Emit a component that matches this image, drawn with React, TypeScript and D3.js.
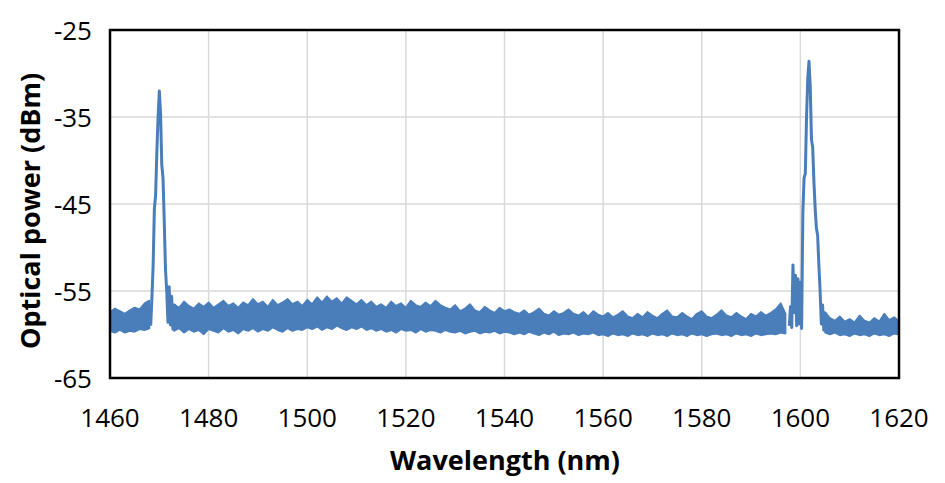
import { useEffect, useRef } from "react";
import * as d3 from "d3";

// Noise floor, read as upper / lower edge of the trace per 1 nm bin (dBm)
const floorA_start = 1460;
const floorA_hi = [-57.4, -57.0, -57.3, -57.6, -57.2, -56.9, -57.1, -56.4, -56.1];
const floorA_lo = [-59.6, -59.8, -59.5, -59.8, -59.6, -59.7, -59.4, -59.5, -59.3];

const floorB_start = 1473;
const floorB_hi = [
  // 1473 - 1499
  -56.5, -56.9, -56.2, -56.7, -57.0, -56.4, -56.8, -56.3, -56.9, -56.5,
  -56.1, -56.7, -56.4, -56.9, -56.3, -56.6, -55.9, -56.5, -56.2, -56.8,
  -56.0, -56.6, -56.3, -55.9, -56.5, -56.2, -56.7,
  // 1500 - 1514
  -56.0, -56.5, -55.7, -56.3, -55.6, -56.2, -55.8, -56.4, -55.7, -56.1,
  -56.5, -56.0, -56.6, -56.2, -56.8,
  // 1515 - 1528
  -56.5, -56.9, -56.2, -56.7, -56.4, -56.9, -56.1, -56.6, -56.8, -56.3,
  -56.7, -56.1, -56.6, -56.9,
  // 1529 - 1542
  -57.1, -56.6, -57.3, -57.0, -56.5, -57.2, -57.4, -56.8, -57.2, -57.5,
  -56.9, -57.3, -57.1, -57.4,
  // 1543 - 1559
  -57.6, -57.2, -57.7, -57.4, -57.0, -57.6, -57.8, -57.3, -57.7, -57.5,
  -57.1, -57.6, -57.8, -57.4, -57.9, -57.3, -57.7,
  // 1560 - 1597
  -57.9, -57.5, -58.0, -57.7, -57.3, -57.9, -58.1, -57.6, -58.0, -57.4,
  -57.8, -58.1, -57.6, -57.2, -57.9, -58.0, -57.5, -57.9, -58.2, -57.6,
  -57.3, -57.9, -58.1, -57.7, -57.2, -57.8, -58.0, -57.5, -57.9, -58.2,
  -57.6, -57.9, -57.4, -57.8, -57.5, -57.1, -56.4, -57.6,
];
const floorB_lo = [
  -59.6, -59.3, -59.8, -59.4, -59.7, -59.5, -60.0, -59.4, -59.6, -59.8,
  -59.3, -59.7, -59.5, -59.9, -59.4, -59.6, -59.3, -59.7, -59.4, -59.6,
  -59.2, -59.5, -59.7, -59.3, -59.6, -59.4, -59.5,
  -59.2, -59.4, -59.1, -59.5, -59.2, -59.4, -59.0, -59.3, -59.5, -59.2,
  -59.4, -59.1, -59.5, -59.3, -59.6,
  -59.4, -59.7, -59.5, -59.8, -59.4, -59.6, -59.5, -59.8, -59.4, -59.7,
  -59.5, -59.6, -59.8, -59.5,
  -59.7, -59.8, -59.6, -59.9, -59.7, -59.6, -59.9, -59.7, -59.8, -59.6,
  -59.9, -59.7, -59.8, -60.0,
  -59.8, -60.0, -59.7, -59.9, -60.1, -59.8, -60.0, -59.7, -60.1, -59.9,
  -60.0, -59.8, -60.1, -59.9, -60.0, -59.8, -60.1,
  -60.0, -60.2, -59.9, -60.1, -60.0, -60.2, -59.9, -60.1, -60.0, -60.2,
  -59.9, -60.1, -60.0, -60.2, -59.9, -60.1, -60.0, -60.2, -59.9, -60.1,
  -60.0, -60.2, -60.0, -59.9, -60.1, -60.0, -60.2, -59.9, -60.1, -60.0,
  -60.2, -59.9, -60.1, -60.0, -59.9, -60.0, -59.8, -59.9,
];

const floorC_start = 1605;
const floorC_hi = [
  -57.4, -58.1, -58.4, -57.9, -58.5, -58.2, -58.6, -57.8, -58.4, -58.6,
  -58.1, -58.5, -57.6, -58.3, -58.0, -58.4,
];
const floorC_lo = [
  -59.8, -60.0, -59.8, -60.1, -60.0, -60.2, -59.9, -60.1, -60.0, -60.2,
  -59.9, -60.1, -60.0, -60.2, -59.9, -60.0,
];

// Laser line near 1470 nm (0.25 nm samples)
const peakL_nm = [
  1468.25, 1468.5, 1468.75, 1469.0, 1469.25, 1469.5, 1469.75, 1470.0, 1470.25, 1470.5,
  1470.75, 1471.0, 1471.25, 1471.5, 1471.75, 1472.0, 1472.25, 1472.5, 1472.75, 1473.0,
];
const peakL_dbm = [
  -59.0, -55.8, -52.0, -45.5, -44.0, -39.0, -35.0, -32.0, -34.5, -40.5,
  -42.0, -47.0, -52.5, -55.0, -58.6, -54.5, -58.9, -55.6, -59.4, -56.5,
];

// Laser line near 1602 nm (0.25 nm samples)
const peakR_nm = [
  1597.75, 1598.0, 1598.25, 1598.5, 1598.75, 1599.0, 1599.25, 1599.5, 1599.75, 1600.0,
  1600.25, 1600.5, 1600.75, 1601.0, 1601.25, 1601.5, 1601.75, 1602.0, 1602.25, 1602.5,
  1602.75, 1603.0, 1603.25, 1603.5, 1603.75, 1604.0, 1604.25, 1604.5, 1604.75, 1605.0,
];
const peakR_dbm = [
  -59.0, -56.8, -59.2, -52.0, -57.5, -53.2, -59.0, -53.6, -58.8, -54.0,
  -59.3, -46.0, -42.0, -41.5, -35.0, -30.5, -28.6, -31.5, -37.6, -38.5,
  -42.5, -45.5, -47.8, -48.6, -52.0, -55.0, -58.8, -56.6, -59.5, -57.4,
];

const xTicks = [1460, 1480, 1500, 1520, 1540, 1560, 1580, 1600, 1620];
const yTicks = [-65, -55, -45, -35, -25];

const W = 945;
const H = 483;
const FONT = "'Open Sans', 'DejaVu Sans', sans-serif";
const BLUE = "#4a7ebb";

type Bin = { nm: number; hi: number; lo: number };
type Pt = [number, number];

function floorBins(start: number, hi: number[], lo: number[]): Bin[] {
  return hi.map((v, i) => ({ nm: start + i, hi: v, lo: lo[i] }));
}

export default function App() {
  const svgRef = useRef<SVGSVGElement>(null);

  useEffect(() => {
    if (!svgRef.current) return;
    const svg = d3.select(svgRef.current);
    svg.selectAll("*").remove();

    const left = 110, right = 899, top = 30, bottom = 378;

    const x = d3.scaleLinear().domain([1460, 1620]).range([left, right]);
    const y = d3.scaleLinear().domain([-65, -25]).range([bottom, top]);

    svg.append("rect").attr("width", W).attr("height", H).attr("fill", "#fff");

    // grid
    svg.append("g")
      .selectAll("line")
      .data(xTicks.slice(1, -1))
      .join("line")
      .attr("x1", d => x(d)).attr("x2", d => x(d))
      .attr("y1", top).attr("y2", bottom)
      .attr("stroke", "#d9d9d9").attr("stroke-width", 1.5);

    svg.append("g")
      .selectAll("line")
      .data(yTicks.slice(1, -1))
      .join("line")
      .attr("x1", left).attr("x2", right)
      .attr("y1", d => y(d)).attr("y2", d => y(d))
      .attr("stroke", "#d9d9d9").attr("stroke-width", 1.5);

    // noise floor drawn as the trace envelope
    const band = d3.area<Bin>()
      .x(d => x(d.nm))
      .y0(d => y(d.lo))
      .y1(d => y(d.hi));

    const floors = [
      floorBins(floorA_start, floorA_hi, floorA_lo),
      floorBins(floorB_start, floorB_hi, floorB_lo),
      floorBins(floorC_start, floorC_hi, floorC_lo),
    ];
    svg.append("g")
      .selectAll("path")
      .data(floors)
      .join("path")
      .attr("d", d => band(d))
      .attr("fill", BLUE)
      .attr("stroke", BLUE)
      .attr("stroke-width", 1.6)
      .attr("stroke-linejoin", "round");

    // laser lines
    const line = d3.line<Pt>().x(d => x(d[0])).y(d => y(d[1]));
    const peaks: Pt[][] = [
      peakL_nm.map((v, i) => [v, peakL_dbm[i]] as Pt),
      peakR_nm.map((v, i) => [v, peakR_dbm[i]] as Pt),
    ];
    svg.append("g")
      .selectAll("path")
      .data(peaks)
      .join("path")
      .attr("d", d => line(d))
      .attr("fill", "none")
      .attr("stroke", BLUE)
      .attr("stroke-width", 3)
      .attr("stroke-linejoin", "round");

    // plot frame
    svg.append("rect")
      .attr("x", left).attr("y", top)
      .attr("width", right - left).attr("height", bottom - top)
      .attr("fill", "none").attr("stroke", "#000").attr("stroke-width", 2.5);

    // tick labels
    svg.append("g")
      .selectAll("text")
      .data(xTicks)
      .join("text")
      .attr("x", d => x(d))
      .attr("y", 427)
      .attr("text-anchor", "middle")
      .attr("font-family", FONT)
      .attr("font-size", 26)
      .attr("fill", "#000")
      .text(d => String(d));

    svg.append("g")
      .selectAll("text")
      .data(yTicks)
      .join("text")
      .attr("x", 92)
      .attr("y", d => y(d) + 9.5)
      .attr("text-anchor", "end")
      .attr("font-family", FONT)
      .attr("font-size", 26)
      .attr("fill", "#000")
      .text(d => String(d));

    // axis titles
    svg.append("text")
      .attr("x", 505)
      .attr("y", 470)
      .attr("text-anchor", "middle")
      .attr("font-family", FONT)
      .attr("font-weight", "bold")
      .attr("font-size", 27)
      .attr("fill", "#000")
      .text("Wavelength (nm)");

    svg.append("text")
      .attr("transform", "translate(40,211) rotate(-90)")
      .attr("text-anchor", "middle")
      .attr("font-family", FONT)
      .attr("font-weight", "bold")
      .attr("font-size", 27)
      .attr("fill", "#000")
      .text("Optical power (dBm)");
  }, []);

  return (
    <svg
      ref={svgRef}
      width={W}
      height={H}
      style={{ position: "absolute", left: 0, top: 0 }}
    />
  );
}
